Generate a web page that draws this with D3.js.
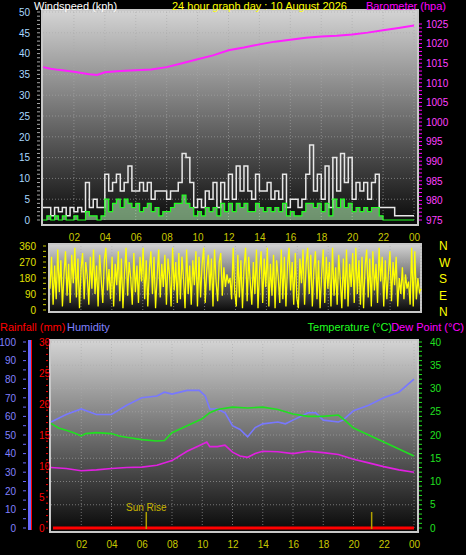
<!DOCTYPE html>
<html><head><meta charset="utf-8">
<script src="https://cdn.jsdelivr.net/npm/d3@7"></script>
<style>body{margin:0;background:#000}svg{display:block;font-family:"Liberation Sans",Arial,sans-serif}</style>
</head><body><svg width="466" height="555"></svg>
<script>
// ---- data ----
var baroHours = [0,0.5,1,2,3,3.5,4,5,6,7,8,9,10,11,12,13,14,15,16,17,18,19,20,21,22,23,24];
var baroValues = [1014,1013.6,1013.3,1012.8,1012.2,1012,1012.7,1013,1013.2,1013.4,1014,1015,1016,1017,1018.3,1019,1019.8,1020.5,1021,1021.5,1021.8,1022,1022.3,1022.8,1023.4,1024,1024.6];
var gustValues = [3,3,1,3,2,3,1,3,2,3,2,9,3,5,3,3,
  11,7,9,11,7,9,13,7,7,9,7,9,5,7,7,7,5,7,7,9,16,15,9,3,5,3,7,5,9,3,9,5,11,5,13,7,13,7,5,11,
  7,7,9,5,7,5,11,3,5,5,3,5,11,18,7,11,5,13,3,15,7,16,9,15,5,9,7,9,5,9,11,3,3,3,3,1,1,1,1,1,1];
var avgValues = [0,1,0,1,0,1,0,0,1,0,0,2,1,1,0,1,
  5,2,4,5,3,5,4,3,4,2,3,4,2,3,1,2,2,3,4,4,6,4,3,1,2,1,3,2,3,1,4,2,4,2,4,3,4,2,2,4,
  3,2,3,2,3,2,4,1,2,1,1,2,4,4,3,4,2,4,1,5,3,5,3,4,2,3,2,3,2,3,3,1,0,0,0,0,0,0,0,0,0];
var dirValues = [120,300,30,250,60,340,100,280,20,200,330,80,260,40,310,150,350,70,290,10,
  230,320,60,270,190,30,300,120,340,90,250,20,310,170,40,280,350,110,230,60,
  300,20,260,140,330,50,290,10,210,350,80,270,180,30,320,100,250,40,300,160,
  350,60,280,20,230,330,90,300,10,190,340,70,260,130,310,30,290,200,20,350,
  110,270,40,320,60,300,180,10,340,90,250,30,280,140,330,20,300,70,260,350,
  40,230,310,110,290,20,340,160,50,270,320,80,240,130,200,150,180,60,350,100,
  20,310,70,280,10,240,350,50,300,160,30,270,90,340,10,220,330,40,290,130,
  350,20,260,80,310,10,280,190,40,340,60,300,20,250,350,110,270,30,320,70,
  10,290,150,340,30,260,350,90,310,20,230,330,60,280,10,200,340,40,300,120,
  270,20,350,80,240,30,310,170,10,290,60,340,20,260,130,320,40,350,90,280,
  30,300,10,250,340,70,290,20,330,110,260,40,350,160,300,20,280,60,210,330,
  50,270,140,300,20,180,90,240,60,200,120,160,30,350,20,330,60,180,100,120];
var tempHours = [0,0.5,1,1.5,2,2.3,3,4,4.5,5,6,7,7.5,8,9,10,10.5,11,12,13,14,15,16,17,18,19,19.5,20,21,22,23,24];
var tempValues = [22.5,21.5,21,20.5,19.8,20.3,20.5,20.3,19.8,19.5,19,18.7,18.8,20.5,22,23.5,24.8,25.5,26,25.8,26,25.5,24.5,24,24,24.3,23,21.5,20,18.5,17,15.5];
var humHours = [0,0.5,1,2,3,4,5,6,7,7.5,8,9,9.8,10.2,10.5,11,11.5,12,12.5,13,13.5,14,15,15.5,16,17,17.5,18,19,19.3,20,21,22,23,24];
var humValues = [57,59,61,64,61,61,66,70,71,73,72,74,74,71,64,64,62,55,53,49,54,56,57,56,58,62,62,58,57,58,63,66,70,73,80];
var dewHours = [0,1,2,3,4,5,6,7,8,9,10,10.3,10.5,11,11.5,12,12.5,13,13.5,14,15,16,17,18,19,20,21,22,23,24];
var dewValues = [13,12.8,12.3,12.5,12.8,13,13.1,13.5,14.5,16.5,18,18.5,17.5,17.5,17.8,16.3,15.5,15.2,16,16.5,16.4,16,16.5,16.2,15.8,14.8,14,13.2,12.5,12];
var hourLabels = ["02","04","06","08","10","12","14","16","18","20","22","00"];
var sunHours = [6.3, 21.2];

var svg = d3.select("svg");
var defs = svg.append("defs");
var grad = defs.append("linearGradient").attr("id","bg").attr("x1",0).attr("x2",0).attr("y1",0).attr("y2",1);
grad.append("stop").attr("offset","0%").attr("stop-color","#d4d4d4");
grad.append("stop").attr("offset","100%").attr("stop-color","#080808");

function panel(x0, x1, y0, y1) {
  svg.append("rect").attr("x",x0).attr("y",y0).attr("width",x1-x0).attr("height",y1-y0)
    .attr("fill","url(#bg)").attr("stroke","#c8c8c8").attr("stroke-width",2);
}
function grid(x, y, yTicks) {
  var g = svg.append("g");
  d3.range(2,25,2).forEach(function (h) {
    g.append("line").attr("x1",x(h)).attr("x2",x(h)).attr("y1",y.range()[0]).attr("y2",y.range()[1])
      .attr("stroke","#aaa").attr("stroke-dasharray","1,2").attr("opacity",0.6);
  });
  yTicks.forEach(function (v) {
    g.append("line").attr("x1",x.range()[0]).attr("x2",x.range()[1]).attr("y1",y(v)).attr("y2",y(v))
      .attr("stroke","#aaa").attr("stroke-dasharray","1,2").attr("opacity",0.6);
  });
}
function hourAxis(x, y) {
  var g = svg.append("g").attr("transform","translate(0,"+y+")")
    .call(d3.axisBottom(x).tickValues(d3.range(2,25,2)).tickFormat(function (d, i) { return hourLabels[i]; }).tickSize(0));
  g.select(".domain").remove();
  g.selectAll("text").attr("fill","#c8c800").attr("font-size",10).attr("dy","0.9em");
}
function sideAxis(gen, scale, x, tickVals, color, fmt) {
  var g = svg.append("g").attr("transform","translate("+x+",0)")
    .call(gen(scale).tickValues(tickVals).tickSize(3).tickFormat(fmt || d3.format("d")));
  g.select(".domain").remove();
  g.selectAll("line").attr("stroke",color);
  g.selectAll("text").attr("fill",color).attr("font-size",10);
  return g;
}
function minorTicks(scale, vals, x, len, color) {
  svg.append("g").selectAll("line").data(vals).enter().append("line")
    .attr("x1",x).attr("x2",x+len).attr("y1",scale).attr("y2",scale)
    .attr("stroke",color).attr("stroke-width",1);
}

// ---- top panel: wind + barometer ----
var xT = d3.scaleLinear().domain([0,24]).range([43,414]);
var yW = d3.scaleLinear().domain([0,50]).range([220,12]);
var yB = d3.scaleLinear().domain([975,1025]).range([220,24]);
panel(42,418,10,225);
grid(xT, yW, d3.range(5,51,5));
svg.append("path").datum(avgValues).attr("fill","rgba(190,255,190,0.55)")
  .attr("d", d3.area().x(function (d,i) { return xT(i*24/(avgValues.length-1)); }).y0(yW(0)).y1(yW).curve(d3.curveStepAfter));
svg.append("path").datum(gustValues).attr("fill","none").attr("stroke","#e8e8e8").attr("stroke-width",1.5)
  .attr("d", d3.line().x(function (d,i) { return xT(i*24/(gustValues.length-1)); }).y(yW).curve(d3.curveStepAfter));
svg.append("path").datum(avgValues).attr("fill","none").attr("stroke","#20ff20").attr("stroke-width",1.2)
  .attr("d", d3.line().x(function (d,i) { return xT(i*24/(avgValues.length-1)); }).y(yW).curve(d3.curveStepAfter));
svg.append("path").datum(baroValues).attr("fill","none").attr("stroke","#ff20ff").attr("stroke-width",2)
  .attr("d", d3.line().x(function (d,i) { return xT(baroHours[i]); }).y(yB));
minorTicks(yW, d3.range(0,51,1), 37, 3, "#aaa");
sideAxis(d3.axisLeft, yW, 36, d3.range(0,51,5), "#a8d8ff").selectAll("line").remove();
minorTicks(yB, d3.range(975,1026,1), 419, 3, "#ff00ff");
sideAxis(d3.axisRight, yB, 420, d3.range(975,1026,5), "#ff40ff").selectAll("line").remove();
hourAxis(xT, 229);
svg.append("text").attr("x",34).attr("y",10).attr("fill","#fff").attr("font-size",11).text("Windspeed (kph)");
svg.append("text").attr("x",172).attr("y",10).attr("fill","#ffff00").attr("font-size",11).text("24 hour graph day : 10 August 2026");
svg.append("text").attr("x",446).attr("y",10).attr("text-anchor","end").attr("fill","#ff00ff").attr("font-size",11).text("Barometer (hpa)");

// ---- middle: wind direction ----
var xD = d3.scaleLinear().domain([0,24]).range([50,421]);
var yD = d3.scaleLinear().domain([0,360]).range([310,246]);
panel(49,421,244,312);
grid(xD, yD, [90,180,270]);
svg.append("path").datum(dirValues).attr("fill","none").attr("stroke","#ffff00").attr("stroke-width",1.3)
  .attr("d", d3.line().x(function (d,i) { return xD(i*24/(dirValues.length-1)); }).y(yD));
minorTicks(yD, d3.range(0,361,30), 43, 3, "#c8c800");
sideAxis(d3.axisLeft, yD, 42, [0,90,180,270,360], "#e0e000").selectAll("line").remove();
svg.append("g").selectAll("text").data(["N","W","S","E","N"]).enter().append("text")
  .attr("x",439).attr("y",function (d,i) { return 250 + i*16.5; }).attr("fill","#ffff00").attr("font-size",12).text(function (d) { return d; });

// ---- bottom: temperature, humidity, dew, rain ----
var xB = d3.scaleLinear().domain([0,24]).range([51,414]);
var yT = d3.scaleLinear().domain([0,40]).range([528,342]);
var yH = d3.scaleLinear().domain([0,100]).range([528,342]);
var yR = d3.scaleLinear().domain([0,30]).range([528,342]);
panel(50,418,340,532);
grid(xB, yT, d3.range(5,41,5));
svg.append("line").attr("x1",xB(0)+2).attr("x2",xB(24)).attr("y1",yR(0)).attr("y2",yR(0)).attr("stroke","#ff0000").attr("stroke-width",3);
sunHours.forEach(function (h) {
  svg.append("line").attr("x1",xB(h)).attr("x2",xB(h)).attr("y1",512).attr("y2",529).attr("stroke","#b0a000").attr("stroke-width",1.5);
});
svg.append("text").attr("x",xB(sunHours[0])).attr("y",511).attr("text-anchor","middle").attr("fill","#c8b400").attr("font-size",10).text("Sun Rise");
svg.append("path").datum(humValues).attr("fill","none").attr("stroke","#7878ff").attr("stroke-width",1.6)
  .attr("d", d3.line().x(function (d,i) { return xB(humHours[i]); }).y(yH));
svg.append("path").datum(tempValues).attr("fill","none").attr("stroke","#20e020").attr("stroke-width",1.6)
  .attr("d", d3.line().x(function (d,i) { return xB(tempHours[i]); }).y(yT));
svg.append("path").datum(dewValues).attr("fill","none").attr("stroke","#e020e0").attr("stroke-width",1.6)
  .attr("d", d3.line().x(function (d,i) { return xB(dewHours[i]); }).y(yT));
svg.append("rect").attr("x",28).attr("y",340).attr("width",3).attr("height",190).attr("fill","#6a6aff");
svg.append("rect").attr("x",31).attr("y",340).attr("width",1).attr("height",190).attr("fill","#ff0000");
sideAxis(d3.axisLeft, yH, 22, d3.range(0,101,10), "#8080ff").selectAll("line").remove();
minorTicks(yH, d3.range(0,101,5), 23, 3, "#6a6aff");
sideAxis(d3.axisRight, yR, 33, d3.range(0,31,5), "#ff0000").selectAll("line").remove();
minorTicks(yR, d3.range(0,31,1), 46, 2, "#ff0000");
minorTicks(yT, d3.range(0,41,1), 419, 3, "#20e020");
sideAxis(d3.axisRight, yT, 424, d3.range(0,41,5), "#20e020").selectAll("line").remove();
hourAxis(xB, 536);
svg.append("text").attr("x",0).attr("y",331).attr("fill","#ff0000").attr("font-size",11).text("Rainfall (mm)");
svg.append("text").attr("x",67).attr("y",331).attr("fill","#8080ff").attr("font-size",11).text("Humidity");
svg.append("text").attr("x",392).attr("y",331).attr("text-anchor","end").attr("fill","#20ff20").attr("font-size",11).text("Temperature (°C)");
svg.append("text").attr("x",464).attr("y",331).attr("text-anchor","end").attr("fill","#ff00ff").attr("font-size",11).text("Dew Point (°C)");
</script></body></html>
